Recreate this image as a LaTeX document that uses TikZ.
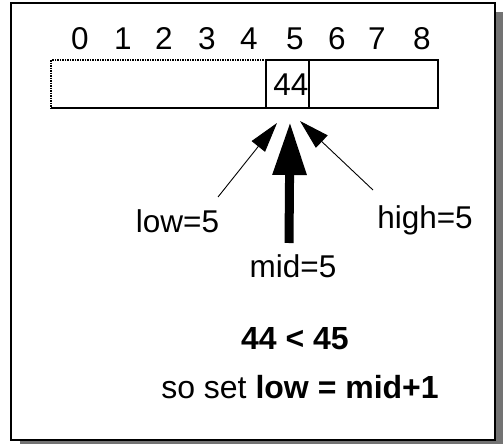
\documentclass[tikz,border=0pt]{standalone}
\usepackage{fontspec}
\setmainfont{Liberation Sans}
\usetikzlibrary{arrows.meta}

\tikzset{
  lbl/.style={anchor=base, inner sep=0pt, font=\fontsize{31.5}{38}\selectfont},
  thinarrow/.style={line width=0.9pt, -{Triangle[length=30pt,width=17pt]}},
  thickarrow/.style={line width=9pt, -{Triangle[length=53pt,width=32pt]}}
}

\begin{document}
\begin{tikzpicture}[x=1pt,y=-1pt]
  \useasboundingbox (0,0) rectangle (503,444);
  % slide frame with its shadow
  \fill[black!55] (20,12) rectangle (503,444);
  \draw[fill=white, line width=1.5pt] (11,3) rectangle (495,440);

  % index row
  \foreach \i/\x in {0/80,1/123,2/164,3/207,4/249,5/295,6/337,7/377,8/422}
    \node[lbl] (idx\i) at (\x,49) {\i};

  % the array, split round cell 5
  \draw[line width=1.5pt, densely dotted] (266,60) -- (51,60) -- (51,108);
  \draw[line width=1.5pt] (51,108) -- (266,108);
  \draw[line width=1.5pt] (309,60) -- (438,60) -- (438,108) -- (309,108);
  \node[draw, line width=1.5pt, minimum width=43pt, minimum height=48pt, inner sep=0pt]
    (cell5) at (287.5,84) {};
  \node[lbl] (val) at (291,95) {44};

  % pointers into the array
  \node[lbl] (low) at (177.5,232) {low=5};
  \node[lbl] (high) at (425,228) {high=5};
  \node[lbl] (mid) at (293,277) {mid=5};

  \coordinate (lowtip) at (277,123);
  \coordinate (midtip) at (290,122);
  \coordinate (hightip) at (300,121);

  \draw[thinarrow] (218,197) -- (lowtip);
  \draw[thinarrow] (373,190) -- (hightip);
  \draw[thickarrow] (289,243) -- (midtip);

  % comparison and the step taken
  \node[lbl, font=\fontsize{32}{38}\selectfont\bfseries] (cmp) at (295,349) {44 < 45};
  \node[lbl] (step) at (300,398) {\fontsize{32}{38}\selectfont so set \textbf{low = mid+1}};
\end{tikzpicture}
\end{document}
